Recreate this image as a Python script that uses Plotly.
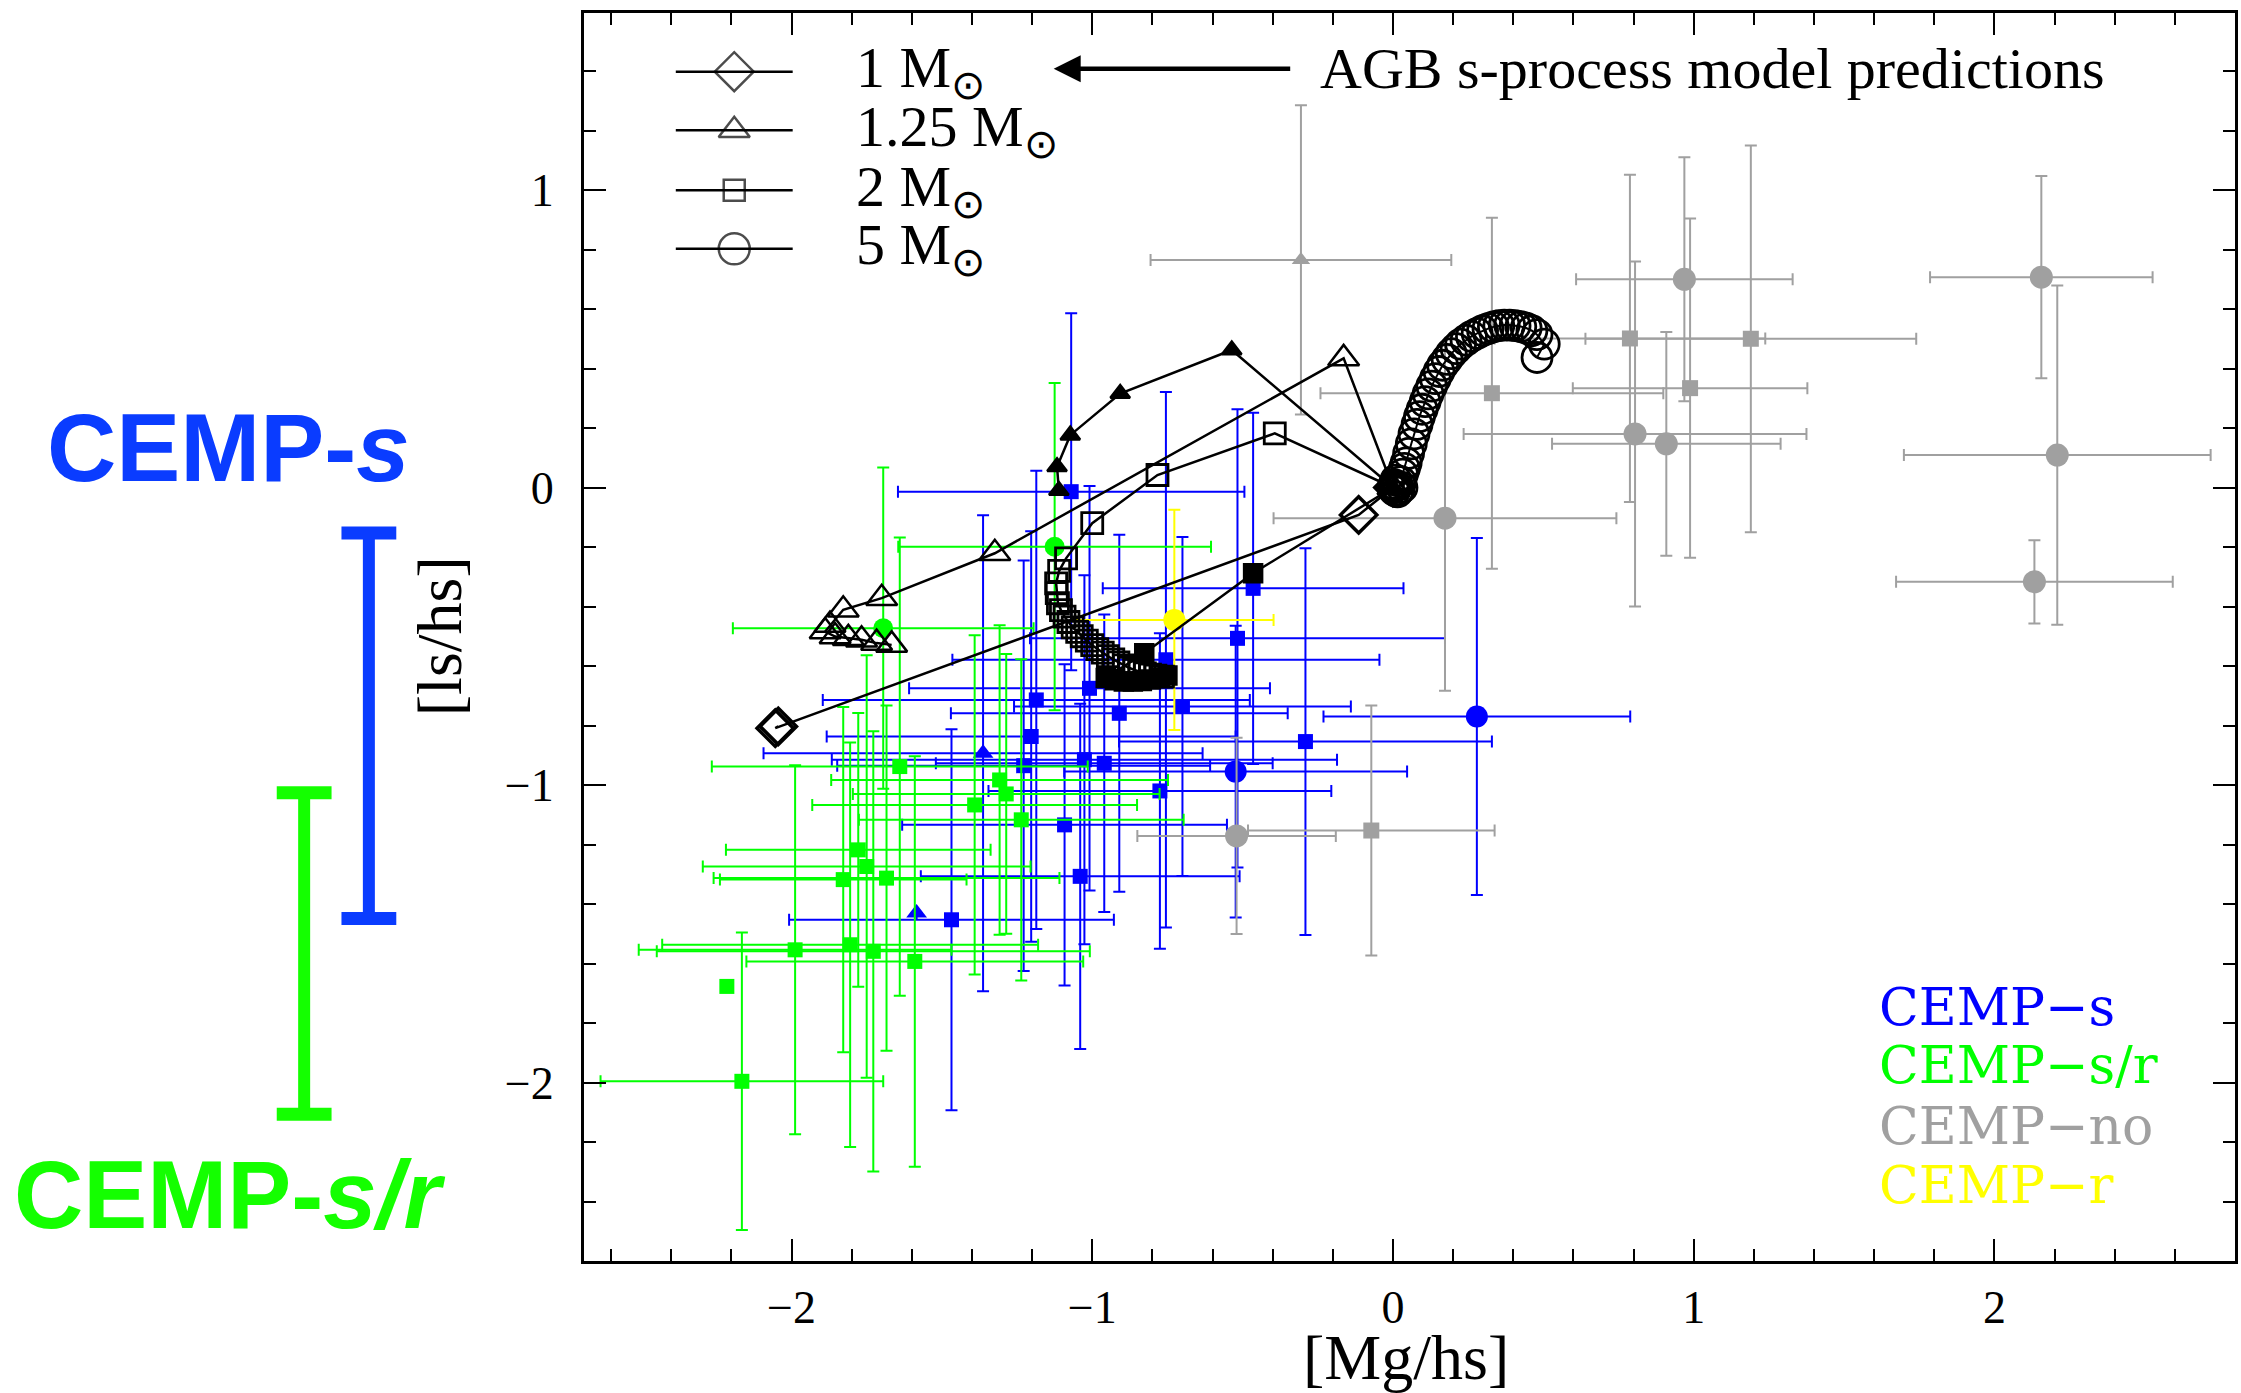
import plotly.graph_objects as go

# ---------------- data ----------------
# CEMP-s stars (blue)
s_x = [-1.070, -1.186, -1.203, -1.363, -1.009, -0.960, -1.026, -0.465, -0.517, -0.755, -0.910,
       -0.700, -0.291, 0.279, -0.523, -0.775, -1.040, -1.092, -1.468, -1.584, -1.228]
s_y = [-0.014, -0.714, -0.837, -0.893, -0.675, -0.927, -0.915, -0.339, -0.507, -0.579, -0.759,
       -0.736, -0.854, -0.770, -0.955, -1.020, -1.307, -1.134, -1.453, -1.430, -0.935]
s_ex = [0.576, 0.71, 0.68, 0.73, 0.60, 0.56, 0.84, 0.50, 0.69, 0.71, 0.56,
        0.56, 0.62, 0.51, 0.57, 0.57, 0.53, 0.54, 0.54, 0.0, 0.62]
s_ey = [0.60, 0.77, 0.69, 0.80, 0.68, 0.50, 0.62, 0.59, 0.77, 0.90, 0.60,
        0.57, 0.65, 0.60, 0.49, 0.53, 0.58, 0.54, 0.64, 0.0, 0.69]
s_kind = ['sq', 'sq', 'sq', 'tri', 'sq', 'sq', 'sq', 'sq', 'sq', 'sq', 'sq',
          'sq', 'sq', 'ci', 'ci', 'sq', 'sq', 'sq', 'sq', 'tri', 'sq']

# CEMP-s/r stars (green)
sr_x = [-1.695, -1.125, -1.640, -1.308, -1.286, -1.391, -1.236, -1.778, -1.750, -1.828, -1.684,
        -1.988, -1.805, -1.728, -1.590, -2.215, -2.165]
sr_y = [-0.473, -0.199, -0.938, -0.983, -1.030, -1.067, -1.117, -1.218, -1.274, -1.318, -1.313,
        -1.554, -1.537, -1.559, -1.593, -1.677, -1.996]
sr_ex = [0.50, 0.52, 0.625, 0.56, 0.51, 0.54, 0.54, 0.44, 0.545, 0.41, 0.575,
         0.52, 0.625, 0.72, 0.56, 0.0, 0.47]
sr_ey = [0.54, 0.55, 0.77, 0.52, 0.47, 0.57, 0.54, 0.46, 0.71, 0.58, 0.58,
         0.62, 0.68, 0.74, 0.69, 0.0, 0.50]
sr_kind = ['ci', 'ci', 'sq', 'sq', 'sq', 'sq', 'sq', 'sq', 'sq', 'sq', 'sq',
           'sq', 'sq', 'sq', 'sq', 'sq', 'sq']

# CEMP-no stars (gray)
no_x = [-0.306, 0.969, 0.988, 2.156, 2.209, 2.133, 0.788, 1.190, 0.329, 0.805, 0.909, 0.173, -0.520, -0.072]
no_y = [0.765, 0.700, 0.334, 0.707, 0.109, -0.317, 0.501, 0.500, 0.317, 0.180, 0.147, -0.103, -1.171, -1.153]
no_ex = [0.50, 0.36, 0.39, 0.37, 0.51, 0.46, 0.45, 0.55, 0.57, 0.57, 0.38, 0.57, 0.33, 0.41]
no_ey = [0.52, 0.41, 0.57, 0.34, 0.57, 0.14, 0.55, 0.65, 0.59, 0.58, 0.376, 0.58, 0.33, 0.42]
no_kind = ['tri', 'ci', 'sq', 'ci', 'ci', 'ci', 'sq', 'sq', 'sq', 'ci', 'ci', 'ci', 'ci', 'sq']

# CEMP-r star (yellow)
r_x = [-0.727]
r_y = [-0.445]
r_ex = [0.33]
r_ey = [0.37]
r_kind = ['ci']

# AGB model tracks
m1_x = [0.0, -0.114, -2.054, -2.044]
m1_y = [0.0, -0.092, -0.809, -0.803]

m125_x = [0.0, -0.164, -1.324, -1.700, -1.828, -1.872, -1.888, -1.855, -1.811, -1.767, -1.717, -1.667]
m125_y = [0.0, 0.434, -0.221, -0.372, -0.411, -0.462, -0.484, -0.501, -0.507, -0.512, -0.523, -0.529]

m125b_x = [0.0, -0.536, -0.907, -1.073, -1.117, -1.111]
m125b_y = [0.0, 0.462, 0.316, 0.176, 0.070, -0.010]

m2_x = [0.0, -0.393, -0.783, -1.000, -1.087, -1.110, -1.120, -1.118, -1.114, -1.104, -1.092,
        -1.079, -1.065, -1.050, -1.035, -1.018, -1.000, -0.983, -0.965, -0.948, -0.930, -0.913,
        -0.895, -0.878, -0.860, -0.843, -0.825, -0.808, -0.790, -0.765]
m2_y = [0.0, 0.182, 0.042, -0.120, -0.238, -0.280, -0.322, -0.355, -0.389, -0.412, -0.434,
        -0.452, -0.470, -0.485, -0.500, -0.515, -0.530, -0.543, -0.555, -0.567, -0.578, -0.588,
        -0.598, -0.606, -0.613, -0.619, -0.625, -0.629, -0.632, -0.636]

m2b_x = [-0.750, -0.775, -0.805, -0.835, -0.865, -0.895, -0.925, -0.955, -0.827, -0.465]
m2b_y = [-0.632, -0.640, -0.645, -0.650, -0.652, -0.652, -0.648, -0.640, -0.557, -0.288]
m2b_end_x = [-0.465, 0.0]
m2b_end_y = [-0.288, 0.0]

m5_x = [0.000, 0.004, 0.010, 0.015, 0.006, 0.012, 0.020, 0.026, 0.030, 0.032, 0.038, 0.044, 0.052,
        0.061, 0.070, 0.080, 0.088, 0.097, 0.107, 0.117, 0.129, 0.141, 0.153, 0.165, 0.180, 0.194,
        0.210, 0.225, 0.243, 0.261, 0.280, 0.298, 0.316, 0.334, 0.352, 0.370, 0.388, 0.406, 0.425,
        0.443, 0.462, 0.479, 0.503, 0.479]
m5_y = [0.000, 0.010, 0.025, -0.015, -0.010, 0.005, -0.007, 0.020, 0.000, 0.045, 0.064, 0.083, 0.115,
        0.147, 0.180, 0.212, 0.238, 0.263, 0.289, 0.315, 0.341, 0.366, 0.390, 0.411, 0.431, 0.450,
        0.467, 0.482, 0.495, 0.508, 0.518, 0.527, 0.534, 0.540, 0.544, 0.546, 0.546, 0.544, 0.541,
        0.536, 0.527, 0.514, 0.482, 0.437]

model_labels = ['1 M<sub>⊙</sub>', '1.25 M<sub>⊙</sub>', '2 M<sub>⊙</sub>', '5 M<sub>⊙</sub>']
class_labels = ['CEMP−s', 'CEMP−s/r', 'CEMP−no', 'CEMP−r']
# ranges of [ls/hs] marked at the left of the axis
band_s = [-0.153, -1.449]
band_sr = [-1.026, -2.107]

x_ticks = [-2, -1, 0, 1, 2]
y_ticks = [-2, -1, 0, 1]

# ---------------- styling ----------------
BLUE = '#0000ff'
GREEN = '#00ff00'
GRAY = '#a0a0a0'
YELLOW = '#ffff00'
BLACK = '#000000'
SYM = {'sq': 'square', 'ci': 'circle', 'tri': 'triangle-up'}

fig = go.Figure()


def add_group(x, y, ex, ey, kind, color, sizes):
    for k in ['sq', 'ci', 'tri']:
        idx = [i for i, kk in enumerate(kind) if kk == k]
        if not idx:
            continue
        fig.add_trace(go.Scatter(
            x=[x[i] for i in idx], y=[y[i] for i in idx], mode='markers',
            marker=dict(symbol=SYM[k], size=sizes[k], color=color, line=dict(width=0)),
            error_x=dict(type='data', array=[ex[i] for i in idx], color=color,
                         thickness=2, width=6, visible=True),
            error_y=dict(type='data', array=[ey[i] for i in idx], color=color,
                         thickness=2, width=6, visible=True),
            showlegend=False, hoverinfo='skip'))


add_group(s_x, s_y, s_ex, s_ey, s_kind, BLUE, {'sq': 15, 'ci': 22, 'tri': 18})
add_group(sr_x, sr_y, sr_ex, sr_ey, sr_kind, GREEN, {'sq': 15, 'ci': 20, 'tri': 18})
add_group(no_x, no_y, no_ex, no_ey, no_kind, GRAY, {'sq': 16, 'ci': 23, 'tri': 16})
add_group(r_x, r_y, r_ex, r_ey, r_kind, YELLOW, {'sq': 15, 'ci': 22, 'tri': 18})


def track(x, y, symbol, size, lw=2.5, mlw=2.5, mode='lines+markers'):
    fig.add_trace(go.Scatter(
        x=x, y=y, mode=mode,
        line=dict(color=BLACK, width=lw),
        marker=dict(symbol=symbol, size=size, color=BLACK, line=dict(color=BLACK, width=mlw)),
        showlegend=False, hoverinfo='skip'))


track(m2b_end_x, m2b_end_y, 'square', 0, mode='lines')
track(m1_x, m1_y, 'diamond-open', 28, mlw=3.5)
track(m125_x, m125_y, 'triangle-up-open', 27)
track(m125b_x, m125b_y, 'triangle-up', 17)
track(m2_x, m2_y, 'square-open', 21, mlw=2.8)
track(m2b_x, m2b_y, 'square', 18)
track(m5_x, m5_y, 'circle-open', 30, lw=2, mlw=2.8)

# ---- model legend (drawn on an overlay axis spanning the plot area) ----
leg_syms = ['diamond-open', 'triangle-up-open', 'square-open', 'circle-open']
leg_sizes = [30, 27, 21, 31]
leg_rows = [0.953, 0.906, 0.858, 0.811]
for sym, sz, yy in zip(leg_syms, leg_sizes, leg_rows):
    fig.add_trace(go.Scatter(
        x=[0.0556, 0.091, 0.1264], y=[yy, yy, yy], mode='lines+markers',
        xaxis='x2', yaxis='y2',
        line=dict(color=BLACK, width=2.5),
        marker=dict(symbol=sym, size=[0, sz, 0], color=BLACK, line=dict(color=BLACK, width=2.5)),
        showlegend=False, hoverinfo='skip'))

annotations = []
for lab, yy in zip(model_labels, leg_rows):
    annotations.append(dict(x=0.1637, y=yy, xref='paper', yref='paper', text=lab,
                            showarrow=False, xanchor='left', yanchor='middle',
                            font=dict(family='Liberation Serif', size=58, color=BLACK)))

# arrow + model text
annotations.append(dict(x=0.2845, y=0.9554, xref='paper', yref='paper', text='',
                        showarrow=True, ax=238, ay=0, axref='pixel', ayref='pixel',
                        arrowhead=2, arrowsize=1.2, arrowwidth=4.5, arrowcolor=BLACK, standoff=0))
annotations.append(dict(x=0.4444, y=0.9554, xref='paper', yref='paper',
                        text='AGB s-process model predictions', showarrow=False,
                        xanchor='left', yanchor='middle',
                        font=dict(family='Liberation Serif', size=58, color=BLACK)))

# class legend (bottom right)
for lab, col, yy in zip(class_labels, [BLUE, GREEN, GRAY, YELLOW], [0.2035, 0.157, 0.108, 0.061]):
    annotations.append(dict(x=0.783, y=yy, xref='paper', yref='paper', text=lab,
                            showarrow=False, xanchor='left', yanchor='middle',
                            font=dict(family='DejaVu Serif', size=52, color=col)))

# axis titles
annotations.append(dict(x=0.498, y=-0.077, xref='paper', yref='paper', text='[Mg/hs]',
                        showarrow=False, xanchor='center', yanchor='middle',
                        font=dict(family='Liberation Serif', size=64, color=BLACK)))
annotations.append(dict(x=-0.0877, y=0.5008, xref='paper', yref='paper', text='[ls/hs]',
                        showarrow=False, xanchor='center', yanchor='middle', textangle=-90,
                        font=dict(family='Liberation Serif', size=64, color=BLACK)))

# left-hand class labels
LBLUE = '#0a3cff'
LGREEN = '#14ff00'
annotations.append(dict(x=-0.2152, y=0.652, xref='paper', yref='paper',
                        text='<b>CEMP-<i>s</i></b>', showarrow=False,
                        xanchor='center', yanchor='middle',
                        font=dict(family='Liberation Sans', size=96, color=LBLUE)))
annotations.append(dict(x=-0.2146, y=0.053, xref='paper', yref='paper',
                        text='<b>CEMP-<i>s/r</i></b>', showarrow=False,
                        xanchor='center', yanchor='middle',
                        font=dict(family='Liberation Sans', size=96, color=LGREEN)))

shapes = []
for (top, bot), xc, col in [(band_s, -0.1303, LBLUE), (band_sr, -0.1695, LGREEN)]:
    hw = 0.0166
    shapes.append(dict(type='line', xref='paper', yref='y', x0=xc, x1=xc, y0=top, y1=bot,
                       line=dict(color=col, width=12)))
    for yy in (top, bot):
        shapes.append(dict(type='line', xref='paper', yref='y', x0=xc - hw, x1=xc + hw, y0=yy, y1=yy,
                           line=dict(color=col, width=13)))

axis_common = dict(showgrid=False, zeroline=False, showline=True, linewidth=3, linecolor=BLACK,
                   mirror='allticks', ticks='inside', ticklen=22, tickwidth=2, tickcolor=BLACK,
                   tickfont=dict(family='Liberation Serif', size=46, color=BLACK),
                   minor=dict(dtick=0.2, tick0=0, ticks='inside', ticklen=12, tickwidth=2,
                              tickcolor=BLACK, showgrid=False))

fig.update_layout(
    width=2241, height=1393,
    margin=dict(l=584, r=3, t=13, b=132),
    paper_bgcolor='white', plot_bgcolor='white', showlegend=False,
    xaxis=dict(range=[-2.69, 2.80], tickvals=x_ticks, ticklabelstandoff=4, **axis_common),
    yaxis=dict(range=[-2.60, 1.595], tickvals=y_ticks, ticklabelstandoff=18, **axis_common),
    xaxis2=dict(overlaying='x', range=[0, 1], visible=False, fixedrange=True),
    yaxis2=dict(overlaying='y', range=[0, 1], visible=False, fixedrange=True),
    annotations=annotations, shapes=shapes,
)

fig.write_html('out.html')
